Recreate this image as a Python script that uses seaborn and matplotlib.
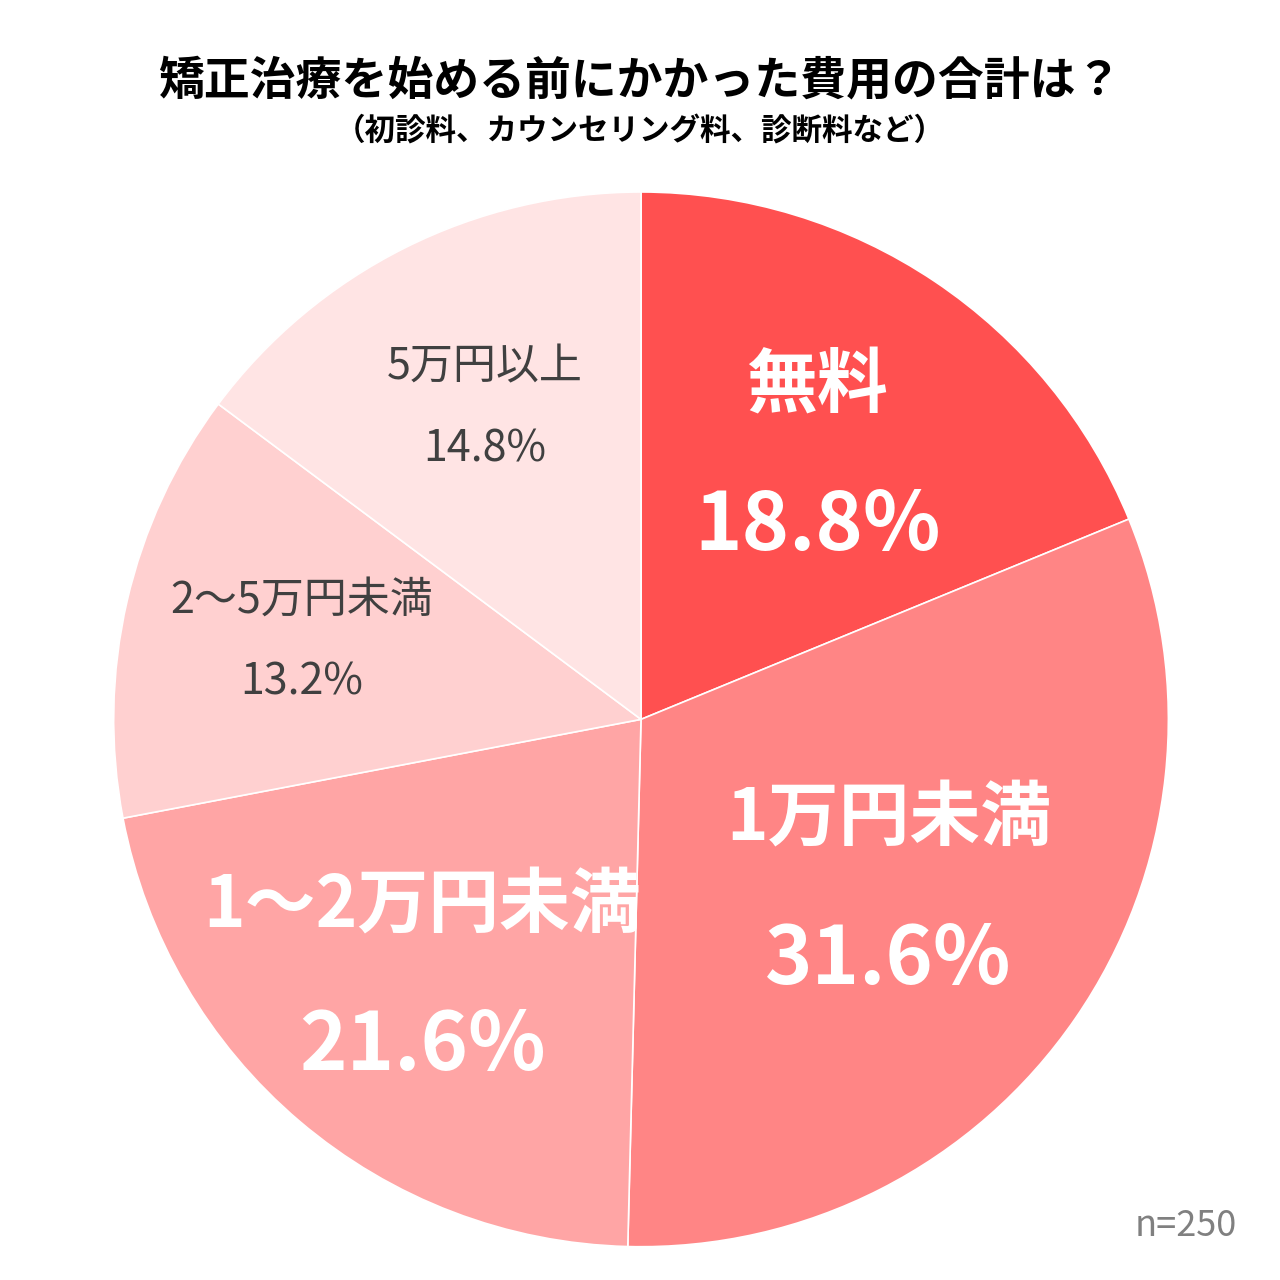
import numpy as np
import matplotlib.pyplot as plt
import seaborn as sns

plt.rcParams['font.family'] = 'Noto Sans CJK JP'
sns.set_theme(style='white', font='Noto Sans CJK JP')

categories = ['無料', '1万円未満', '1～2万円未満', '2～5万円未満', '5万円以上']
values = [18.8, 31.6, 21.6, 13.2, 14.8]
colors = ['#FF5050', '#FF8585', '#FFA5A5', '#FFD0D0', '#FFE4E4']

fig = plt.figure(figsize=(12.8, 12.8), dpi=100)
ax = fig.add_axes([0.5008 - 0.412, 0.438 - 0.412, 0.824, 0.824])
wedges, _ = ax.pie(values, colors=colors, startangle=90, counterclock=False,
                   wedgeprops=dict(edgecolor='white', linewidth=1.2))
ax.set_xlim(-1, 1)
ax.set_ylim(-1, 1)
ax.set_aspect('equal')

label_r = [0.6, 0.57, 0.64, 0.66, 0.66]
for w, name, v, r in zip(wedges, categories, values, label_r):
    ang = np.deg2rad((w.theta1 + w.theta2) / 2)
    x, y = r * np.cos(ang), r * np.sin(ang)
    if v > 15:
        ax.text(x, y + 0.133, name, ha='center', va='center', color='white',
                fontsize=51, fontweight='bold')
        ax.text(x, y - 0.133, f'{v}%', ha='center', va='center', color='white',
                fontsize=58, fontweight='bold')
    else:
        ax.text(x, y + 0.078, name, ha='center', va='center', color='#404040', fontsize=31)
        ax.text(x, y - 0.078, f'{v}%', ha='center', va='center', color='#404040', fontsize=31)

fig.text(0.5, 0.936, '矯正治療を始める前にかかった費用の合計は？', ha='center', va='center',
         fontsize=33, fontweight='bold', color='black')
fig.text(0.5, 0.897, '（初診料、カウンセリング料、診断料など）', ha='center', va='center',
         fontsize=22, fontweight='bold', color='black')
fig.text(0.966, 0.042, 'n=250', ha='right', va='center', fontsize=26, color='#808080')

fig.savefig('out.png', dpi=100, facecolor='white')
